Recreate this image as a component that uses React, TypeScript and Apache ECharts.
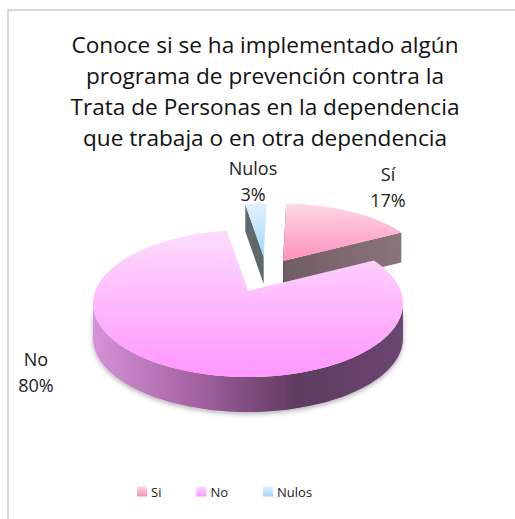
import React, { useEffect, useRef } from "react";
import * as echarts from "echarts";

const titleLines = [
  "Conoce si se ha implementado algún",
  "programa de prevención contra la",
  "Trata de Personas en la dependencia",
  "que trabaja o en otra dependencia",
];
const legendNames = ["Si", "No", "Nulos"];
const labelNames = ["Sí", "No", "Nulos"];
const values = [17, 80, 3];

// geometry of the tilted pie (styling only)
const START_DEG = 1.5;
const A = 0.17;
const SX = 152.7;
const SY = 71.4;
const DEPTH = 35;
const apex = [
  [283, 261],
  [248, 291],
  [263.7, 257],
];
const scale = [0.94, 1, 0.87];
const labelPos = [
  [388, 187],
  [36, 372],
  [253, 181],
];
const topColors = [
  ["#fdd8e8", "#ff8fbe"],
  ["#fcdcfc", "#ff96ff"],
  ["#e2f1fb", "#9dd8fd"],
];
const FONT = "'Open Sans', sans-serif";

const grad = (c: string[], x2 = 0, y2 = 1) =>
  new echarts.graphic.LinearGradient(0, 0, x2, y2, [
    { offset: 0, color: c[0] },
    { offset: 1, color: c[1] },
  ]);

function rim(i: number, deg: number): number[] {
  const t = (deg * Math.PI) / 180;
  const u = Math.sin(t);
  const v = Math.cos(t);
  const w = 1 + A * v;
  return [
    apex[i][0] + (scale[i] * SX * u) / w,
    apex[i][1] - (scale[i] * SY * v) / w,
  ];
}

function arcPts(i: number, from: number, to: number): number[][] {
  const pts: number[][] = [];
  const n = Math.max(2, Math.ceil(Math.abs(to - from) / 2));
  for (let k = 0; k <= n; k++) pts.push(rim(i, from + ((to - from) * k) / n));
  return pts;
}

const total = values.reduce((a, b) => a + b, 0);
function sliceAngles(i: number): [number, number] {
  let s = START_DEG;
  for (let k = 0; k < i; k++) s += (values[k] / total) * 360;
  return [s, s + (values[i] / total) * 360];
}

const down = (pts: number[][], d: number) => pts.map((p) => [p[0], p[1] + d]);

function renderSlice(i: number) {
  return () => {
    const [a0, a1] = sliceAngles(i);
    const top = [apex[i], ...arcPts(i, a0, a1)];
    const children: any[] = [];
    if (i === 0) {
      const e = rim(0, a1);
      const d = 30;
      children.push({
        type: "polygon",
        shape: { points: [apex[0], e, [e[0], e[1] + d], [apex[0][0], apex[0][1] + d]] },
        style: { fill: grad(["#6f5c64", "#8a7579"], 1, 0) },
      });
      const s = rim(0, a0);
      children.push({
        type: "polygon",
        shape: { points: [s, apex[0], [apex[0][0], apex[0][1] + d], [s[0], s[1] + d]] },
        style: { fill: "#5f5560" },
      });
    }
    if (i === 1) {
      const wall = arcPts(1, 99.8, 260.2);
      children.push({
        type: "polygon",
        shape: { points: [...wall, ...down(wall, DEPTH).reverse()] },
        style: {
          fill: new echarts.graphic.LinearGradient(0, 0, 1, 0, [
            { offset: 0, color: "#d592d8" },
            { offset: 0.35, color: "#a0609f" },
            { offset: 0.65, color: "#5f3b60" },
            { offset: 1, color: "#6b4670" },
          ]),
          shadowBlur: 5,
          shadowColor: "rgba(0,0,0,0.3)",
          shadowOffsetY: 2,
        },
      });
    }
    if (i === 2) {
      const s = rim(2, a0);
      const d = 27;
      children.push({
        type: "polygon",
        shape: { points: [s, apex[2], [apex[2][0], apex[2][1] + d], [s[0], s[1] + d]] },
        style: { fill: "#5c6a6f" },
      });
    }
    children.push({
      type: "polygon",
      shape: { points: top },
      style: { fill: grad(topColors[i]) },
    });
    children.push({
      type: "text",
      x: labelPos[i][0],
      y: labelPos[i][1],
      style: {
        text: `${labelNames[i]}\n${values[i]}%`,
        fill: "#222222",
        font: `18px ${FONT}`,
        lineHeight: 26,
        align: "center",
        verticalAlign: "middle",
      },
    });
    return { type: "group", children };
  };
}

const drawOrder = [2, 0, 1];

export default function App() {
  const ref = useRef<HTMLDivElement>(null);
  useEffect(() => {
    const chart = echarts.init(ref.current!, undefined, { renderer: "svg" });
    chart.setOption({
      animation: false,
      backgroundColor: "#ffffff",
      title: {
        text: titleLines.join("\n"),
        left: 260,
        top: 24,
        textAlign: "center",
        textStyle: {
          fontFamily: FONT,
          fontSize: 22.6,
          fontWeight: "normal",
          color: "#111111",
          lineHeight: 31,
        },
      },
      legend: {
        data: legendNames,
        left: 132,
        top: 480,
        icon: "rect",
        itemWidth: 10,
        itemHeight: 10,
        itemGap: 35,
        selectedMode: false,
        textStyle: { fontFamily: FONT, fontSize: 13, color: "#222222", padding: [0, 0, 0, -1] },
      },
      graphic: [
        {
          type: "rect",
          shape: { x: 8, y: 10, width: 600, height: 600 },
          style: { fill: "none", stroke: "#d9d9d9", lineWidth: 2 },
          silent: true,
        },
      ],
      series: legendNames.map((name, i) => ({
        type: "custom",
        name,
        coordinateSystem: "none",
        data: [values[i]],
        z: drawOrder.indexOf(i) + 2,
        itemStyle: { color: grad(topColors[i]) },
        renderItem: renderSlice(i),
      })),
    });
    return () => chart.dispose();
  }, []);
  return (
    <div
      ref={ref}
      style={{ position: "absolute", left: 0, top: 0, width: 515, height: 519 }}
    />
  );
}
